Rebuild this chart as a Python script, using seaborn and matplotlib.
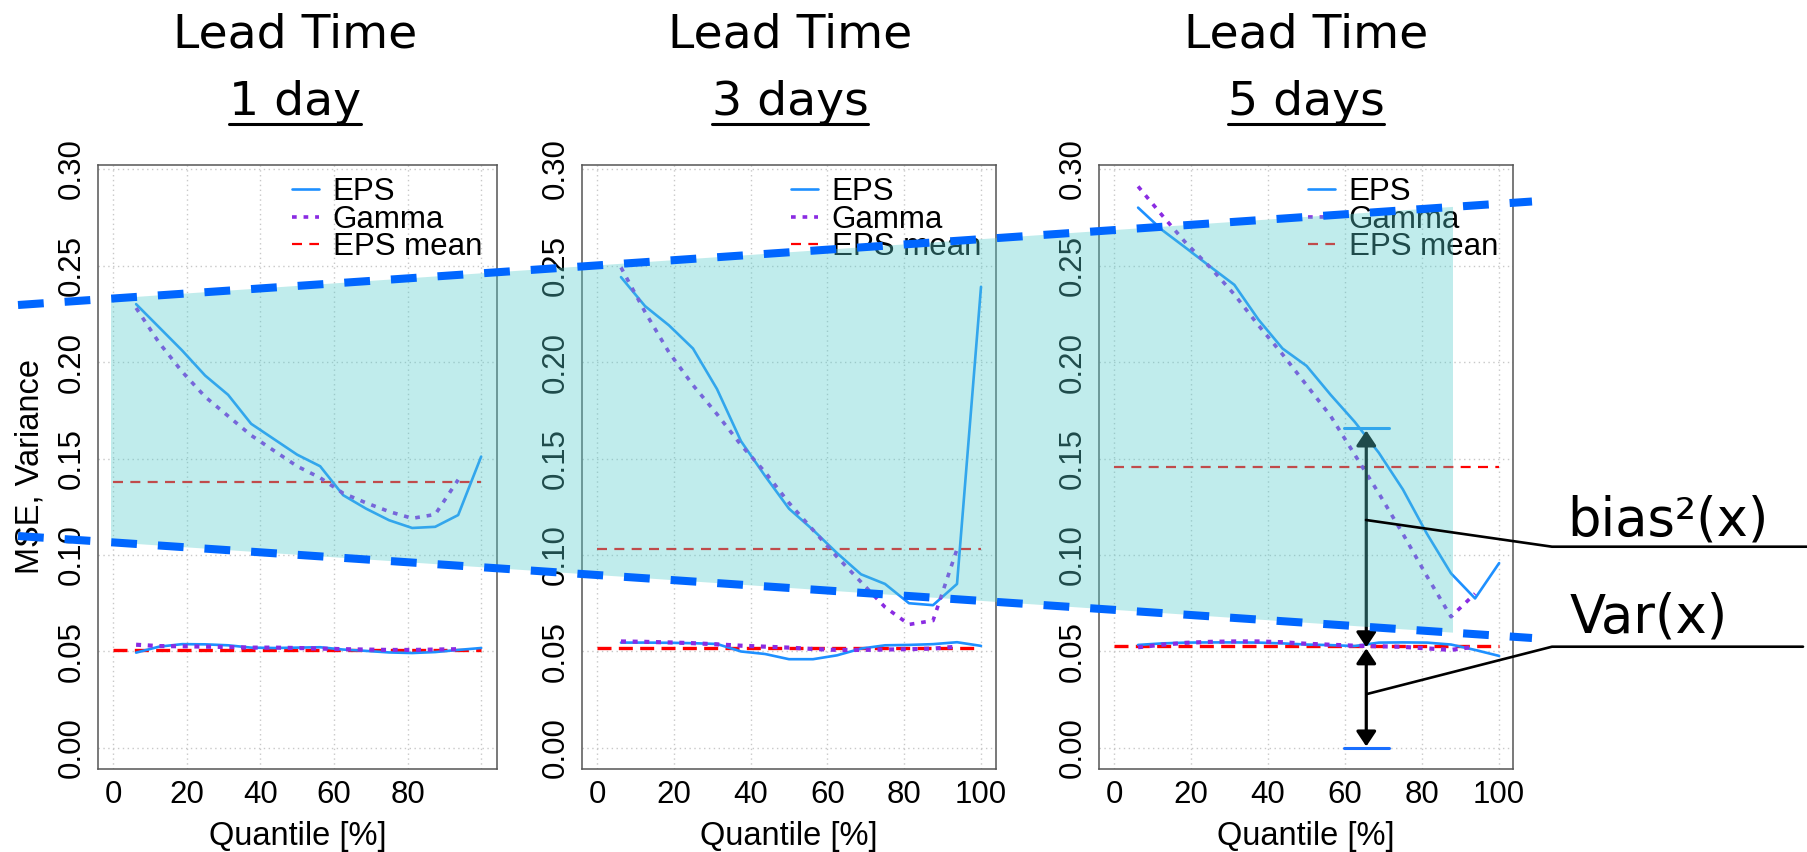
import matplotlib
matplotlib.use("Agg")
import matplotlib.pyplot as plt
import seaborn as sns
import pandas as pd
from matplotlib.lines import Line2D
from matplotlib.patches import Polygon, FancyArrowPatch

# ---------------- data ----------------
quantiles = [6.25, 12.5, 18.75, 25.0, 31.25, 37.5, 43.75, 50.0,
             56.25, 62.5, 68.75, 75.0, 81.25, 87.5, 93.75, 100.0]
quantiles_gamma = quantiles[:-1]

lead_titles = ["1 day", "3 days", "5 days"]

# lead time 1 day
mse_eps_1 = [0.230, 0.218, 0.206, 0.193, 0.183, 0.168, 0.160, 0.152,
             0.146, 0.131, 0.124, 0.118, 0.114, 0.1146, 0.1207, 0.151]
mse_gamma_1 = [0.228, 0.210, 0.195, 0.182, 0.172, 0.162, 0.154, 0.146,
               0.140, 0.132, 0.127, 0.1225, 0.119, 0.121, 0.139]
var_eps_1 = [0.0494, 0.0525, 0.0538, 0.0537, 0.0532, 0.0520, 0.0518, 0.0520,
             0.0522, 0.0510, 0.0503, 0.0495, 0.0492, 0.0497, 0.0508, 0.0518]
var_gamma_1 = [0.0535, 0.0528, 0.0527, 0.0525, 0.0523, 0.0520, 0.0520, 0.0518,
               0.0515, 0.0512, 0.0510, 0.0508, 0.0508, 0.0510, 0.0512]
mse_mean_1 = 0.138
var_mean_1 = 0.0508

# lead time 3 days
mse_eps_3 = [0.244, 0.229, 0.219, 0.207, 0.186, 0.159, 0.141, 0.124,
             0.113, 0.101, 0.090, 0.085, 0.075, 0.074, 0.085, 0.239]
mse_gamma_3 = [0.249, 0.226, 0.205, 0.188, 0.173, 0.157, 0.143, 0.127,
               0.113, 0.099, 0.086, 0.073, 0.064, 0.066, 0.103]
var_eps_3 = [0.0546, 0.0546, 0.0545, 0.0543, 0.0539, 0.0500, 0.0487, 0.0460,
             0.0460, 0.0480, 0.0515, 0.0532, 0.0534, 0.0538, 0.0548, 0.0529]
var_gamma_3 = [0.0552, 0.0550, 0.0547, 0.0543, 0.0537, 0.0530, 0.0525, 0.0520,
               0.0513, 0.0508, 0.0508, 0.0510, 0.0512, 0.0515, 0.0525]
mse_mean_3 = 0.1031
var_mean_3 = 0.0516

# lead time 5 days
mse_eps_5 = [0.280, 0.2684, 0.259, 0.2494, 0.240, 0.222, 0.207, 0.198,
             0.183, 0.169, 0.153, 0.134, 0.111, 0.0905, 0.0775, 0.0958]
mse_gamma_5 = [0.291, 0.276, 0.2615, 0.249, 0.235, 0.219, 0.204, 0.188,
               0.172, 0.152, 0.132, 0.111, 0.089, 0.068, 0.080]
var_eps_5 = [0.0534, 0.0542, 0.0546, 0.0547, 0.0547, 0.0546, 0.0542, 0.0536,
             0.0533, 0.0528, 0.0546, 0.0547, 0.0546, 0.0536, 0.0508, 0.0477]
var_gamma_5 = [0.0522, 0.0535, 0.0545, 0.0550, 0.0552, 0.0552, 0.0548, 0.0540,
               0.0535, 0.0530, 0.0527, 0.0524, 0.0516, 0.0508, 0.0525]
mse_mean_5 = 0.1458
var_mean_5 = 0.0528

x_ticks = [0, 20, 40, 60, 80, 100]
x_ticklabels_first = ["0", "20", "40", "60", "80", ""]
x_ticklabels = ["0", "20", "40", "60", "80", "100"]
y_ticks = [0.00, 0.05, 0.10, 0.15, 0.20, 0.25, 0.30]
y_ticklabels = ["0.00", "0.05", "0.10", "0.15", "0.20", "0.25", "0.30"]
legend_labels = ["EPS", "Gamma", "EPS mean"]

# decomposition annotation (panel 3, data units)
arrow_quantile = 65.5
bias_top = 0.166
var_top = 0.0522
var_bottom = 0.0

# ---------------- style ----------------
sns.set_style("white")
plt.rcParams["font.family"] = ["Liberation Sans", "DejaVu Sans"]
plt.rcParams["text.color"] = "black"
plt.rcParams["axes.labelcolor"] = "black"
plt.rcParams["xtick.color"] = "black"
plt.rcParams["ytick.color"] = "black"

W, H = 1808, 852
fig = plt.figure(figsize=(W / 100, H / 100), dpi=100)


def fx(x):
    return x / W


def fy(y):
    return 1 - y / H


C_EPS = "#1E90FF"
C_GAM = "#8A2BE2"
C_RED = "#FF0000"
FRAME = "#555555"

panels = [
    dict(left=98, right=497, xlim=(-4.1, 104.3), eps=mse_eps_1, gam=mse_gamma_1,
         veps=var_eps_1, vgam=var_gamma_1, m=mse_mean_1, vm=var_mean_1,
         xl=x_ticklabels_first, cx=295),
    dict(left=582, right=996, xlim=(-3.9, 103.9), eps=mse_eps_3, gam=mse_gamma_3,
         veps=var_eps_3, vgam=var_gamma_3, m=mse_mean_3, vm=var_mean_3,
         xl=x_ticklabels, cx=790),
    dict(left=1099, right=1513, xlim=(-3.9, 103.6), eps=mse_eps_5, gam=mse_gamma_5,
         veps=var_eps_5, vgam=var_gamma_5, m=mse_mean_5, vm=var_mean_5,
         xl=x_ticklabels, cx=1306),
]
top_px, bot_px = 165, 769

axes = []
for i, p in enumerate(panels):
    ax = fig.add_axes([fx(p["left"]), fy(bot_px), (p["right"] - p["left"]) / W,
                       (bot_px - top_px) / H])
    axes.append(ax)
    df_eps = pd.DataFrame({"q": quantiles, "mse": p["eps"], "var": p["veps"]})
    df_gam = pd.DataFrame({"q": quantiles_gamma, "mse": p["gam"], "var": p["vgam"]})
    df_mean = pd.DataFrame({"q": [0, 100], "mse": [p["m"]] * 2, "var": [p["vm"]] * 2})

    # lower group (variance)
    sns.lineplot(data=df_mean, x="q", y="var", ax=ax, color=C_RED, lw=2.4)
    ax.lines[-1].set_dashes((4.2, 2.2))
    sns.lineplot(data=df_eps, x="q", y="var", ax=ax, color=C_EPS, lw=1.9)
    sns.lineplot(data=df_gam, x="q", y="var", ax=ax, color=C_GAM, lw=3.0)
    ax.lines[-1].set_dashes((1.2, 1.6))
    # upper group (MSE)
    sns.lineplot(data=df_mean, x="q", y="mse", ax=ax, color=C_RED, lw=1.6)
    ax.lines[-1].set_dashes((4.5, 3.3))
    sns.lineplot(data=df_eps, x="q", y="mse", ax=ax, color=C_EPS, lw=1.9)
    sns.lineplot(data=df_gam, x="q", y="mse", ax=ax, color=C_GAM, lw=2.6)
    ax.lines[-1].set_dashes((1.3, 1.9))

    ax.set_xlim(*p["xlim"])
    ax.set_ylim(-0.0109, 0.3021)
    ax.set_xticks(x_ticks)
    ax.set_xticklabels(p["xl"])
    ax.set_yticks(y_ticks)
    ax.set_yticklabels(y_ticklabels, rotation=90, va="center")
    ax.tick_params(axis="both", direction="out", length=5.8, width=1.1,
                   color=FRAME, labelsize=22.5, labelcolor="black", pad=2)
    ax.tick_params(axis="y", pad=2.5)
    ax.grid(True, linestyle=(0, (1, 2.5)), color="#C8C8C8", lw=1.0)
    for s in ax.spines.values():
        s.set_color(FRAME)
        s.set_linewidth(1.1)
        s.set_visible(True)
    ax.set_xlabel("Quantile [%]", fontsize=23.5, color="black")
    ax.xaxis.set_label_coords(0.5, (bot_px - 845) / (bot_px - top_px))
    ax.xaxis.label.set_va("baseline")
    if i == 0:
        ax.set_ylabel("MSE, Variance", fontsize=23.5, color="black")
        ax.yaxis.set_label_coords((30 - p["left"]) / (p["right"] - p["left"]), 0.5)
        ax.yaxis.label.set_va("center")
    else:
        ax.set_ylabel("")

    handles = [
        Line2D([], [], color=C_EPS, lw=1.9),
        Line2D([], [], color=C_GAM, lw=2.6, dashes=(1.3, 1.9)),
        Line2D([], [], color=C_RED, lw=1.6, dashes=(4.5, 3.3)),
    ]
    wpx = p["right"] - p["left"]
    leg = ax.legend(handles=handles, labels=legend_labels, frameon=False, fontsize=22.5,
                    loc="upper left",
                    bbox_to_anchor=(1 - 205 / wpx, 1 - 12 / (bot_px - top_px)),
                    borderpad=0, borderaxespad=0, handlelength=0.85, handletextpad=0.45,
                    labelspacing=-0.08)
    for t in leg.get_texts():
        t.set_color("black")

# decomposition arrows in panel 3
ax3 = axes[2]
cap_half = 5.8
ax3.plot([arrow_quantile - cap_half, arrow_quantile + cap_half], [bias_top, bias_top],
         color=C_EPS, lw=2.2, clip_on=False, zorder=6)
ax3.plot([arrow_quantile - cap_half, arrow_quantile + cap_half], [var_bottom, var_bottom],
         color="#1A6FFF", lw=2.2, clip_on=False, zorder=6)
for y0, y1 in [(var_top, bias_top - 0.0015), (var_top - 0.0006, var_bottom + 0.0008)]:
    arr = FancyArrowPatch((arrow_quantile, y0), (arrow_quantile, y1),
                          arrowstyle="<|-|>,head_length=0.45,head_width=0.3",
                          mutation_scale=20, color="black", lw=2.3,
                          shrinkA=0, shrinkB=0, zorder=7, clip_on=False)
    ax3.add_patch(arr)

# ---------------- overlay band ----------------
upper_line = ((18, 305.0), (1532, 201.5))
lower_line = ((18, 536.0), (1532, 638.0))
band_x = (111, 1453)


def y_on(line, x):
    (x0, y0), (x1, y1) = line
    return y0 + (y1 - y0) * (x - x0) / (x1 - x0)


poly = [(band_x[0], y_on(upper_line, band_x[0])), (band_x[1], y_on(upper_line, band_x[1])),
        (band_x[1], y_on(lower_line, band_x[1])), (band_x[0], y_on(lower_line, band_x[0]))]
fig.add_artist(Polygon([(fx(a), fy(b)) for a, b in poly], closed=True,
                       facecolor="#55CDCD", alpha=0.37, edgecolor="none",
                       transform=fig.transFigure, zorder=10))
for line in (upper_line, lower_line):
    (x0, y0), (x1, y1) = line
    fig.add_artist(Line2D([fx(x0), fx(x1)], [fy(y0), fy(y1)], color="#0066FF",
                          lw=5.8, dashes=(3.2, 2.6), solid_capstyle="butt",
                          dash_capstyle="butt", transform=fig.transFigure, zorder=11))

# callout leaders
bias_leader = [(1366, 520), (1552, 546.7), (1808, 546.7)]
var_leader = [(1367, 694), (1552, 646.7), (1803, 646.7)]
for ld in (bias_leader, var_leader):
    fig.add_artist(Line2D([fx(a) for a, b in ld], [fy(b) for a, b in ld], color="black",
                          lw=1.9, transform=fig.transFigure, zorder=11))
fig.text(fx(1567), fy(535), "bias²(x)", fontsize=38, family="DejaVu Sans",
         va="baseline", ha="left", zorder=12, color="black")
fig.text(fx(1570), fy(632.7), "Var(x)", fontsize=38, family="DejaVu Sans",
         va="baseline", ha="left", zorder=12, color="black")

# ---------------- titles ----------------
sub_texts = []
for p, t in zip(panels, lead_titles):
    fig.text(fx(p["cx"]), fy(48), "Lead Time", fontsize=34, family="DejaVu Sans",
             ha="center", va="baseline", color="black")
    sub_texts.append(fig.text(fx(p["cx"]), fy(115), t, fontsize=34, family="DejaVu Sans",
                              ha="center", va="baseline", color="black"))

fig.canvas.draw()
renderer = fig.canvas.get_renderer()
for t in sub_texts:
    bb = t.get_window_extent(renderer)
    fig.add_artist(Line2D([bb.x0 / W, bb.x1 / W], [fy(123.5), fy(123.5)], color="black",
                          lw=2.2, transform=fig.transFigure))

fig.savefig("out.png", dpi=100)
